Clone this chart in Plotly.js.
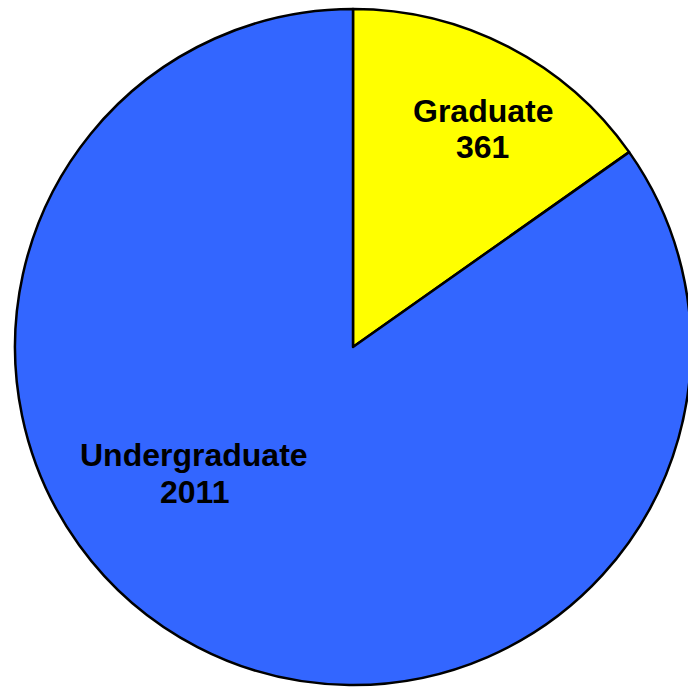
<!DOCTYPE html>
<html>
<head>
<meta charset="utf-8">
<script src="https://cdn.plot.ly/plotly-3.0.1.min.js"></script>
<style>
html,body{margin:0;padding:0;overflow:hidden;background:#fff;}
#chart{width:700px;height:687px;}
</style>
</head>
<body>
<div id="chart"></div>
<script>
const categories = ["Graduate", "Undergraduate"];
const values = [361, 2011];
const colors = ["#FFFF00", "#3366FF"];

const W = 700, H = 687;
// label centres (px): [x, name line y, value line y]
const labelPos = [[482.5, 111, 147], [194, 455, 492]];

const font = {family: "Liberation Sans, Arial, sans-serif", size: 32, color: "#000"};
const annotations = [];
categories.forEach((c, i) => {
  annotations.push({
    text: "<b>" + c + "</b>", xref: "paper", yref: "paper",
    x: labelPos[i][0] / W, y: 1 - labelPos[i][1] / H,
    xanchor: "center", yanchor: "middle", showarrow: false, font: font
  });
  annotations.push({
    text: "<b>" + values[i] + "</b>", xref: "paper", yref: "paper",
    x: labelPos[i][0] / W, y: 1 - labelPos[i][2] / H,
    xanchor: "center", yanchor: "middle", showarrow: false, font: font
  });
});

Plotly.newPlot("chart", [{
  type: "pie",
  labels: categories,
  values: values,
  sort: false,
  direction: "clockwise",
  rotation: 0,
  textinfo: "none",
  hoverinfo: "label+value",
  marker: {colors: colors, line: {color: "#000", width: 2.5}},
  domain: {x: [15 / W, 691 / W], y: [2 / H, 678 / H]}
}], {
  width: W, height: H,
  margin: {l: 0, r: 0, t: 0, b: 0},
  paper_bgcolor: "#fff",
  showlegend: false,
  annotations: annotations
}, {displayModeBar: false, staticPlot: true});
</script>
</body>
</html>
